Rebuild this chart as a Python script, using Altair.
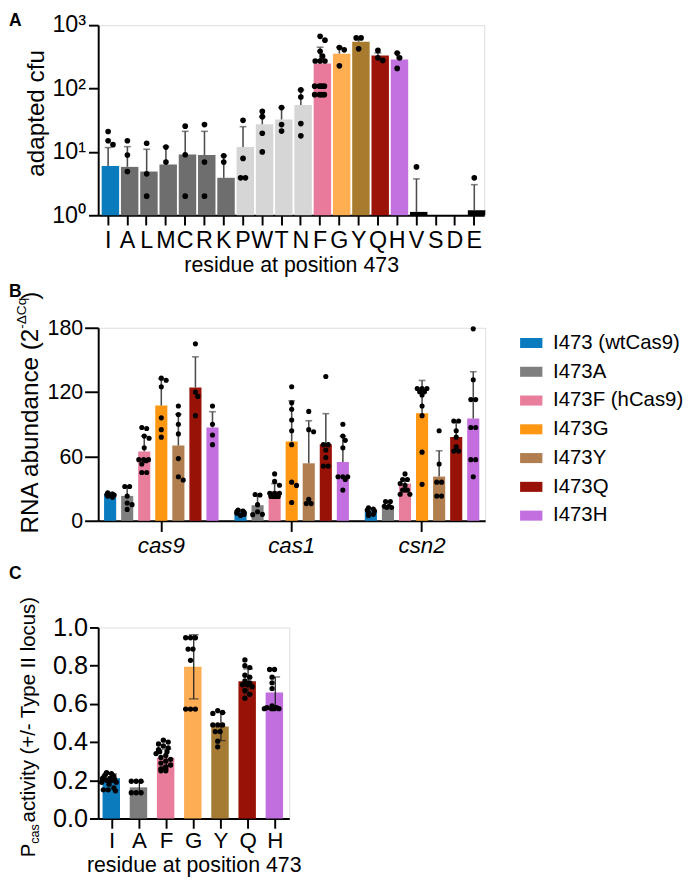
import altair as alt
import pandas as pd
import math

FONT = "Liberation Sans"

# ---------------- Panel A data ----------------
a_res = ["I", "A", "L", "M", "C", "R", "K", "P", "W", "T", "N", "F", "G", "Y", "Q", "H", "V", "S", "D", "E"]
a_mean = [6.0, 5.8, 4.9, 6.3, 9.1, 8.9, 3.9, 11.9, 27.3, 32.5, 55, 248, 355, 547, 331, 288, 1.13, None, None, 1.2]
a_upper = [11.7, 12.1, 11.0, 12.1, 21.1, 21.1, 8.7, 25, 36, 50, 95, 449, 449, 630, 365, 363, 3.75, None, None, 3.04]
a_points = [
    [21, 15, 13], [15, 8.9, 4.9], [13.7, 4.5, 2.0], [11.9, 6.9], [25.5, 9.0, 2.0], [27, 6.9, 2.0],
    [8.7, 6.9], [31.5, 7.9, 3.9, 3.9], [43.5, 36, 19.7, 10], [50, 27, 21.3], [95, 73.5, 28, 17.9],
    [667, 580, 386, 324, 272, 272, 272, 109, 109, 109, 109, 80, 80, 80, 80],
    [444, 408, 228], [630, 630, 423], [400, 305, 278], [363, 305, 208], [5.8], [], [], [3.9],
]
a_colors = ["#0a7bbd"] + ["#6e6e6e"] * 6 + ["#d6d6d6"] * 4 + ["#e97a9b", "#ffae52", "#a97b2f", "#9c1409", "#c271e0"] + ["#000000"] * 4
a_ticks = [1, 10, 100, 1000]
a_title_y = "adapted cfu"
a_title_x = "residue at position 473"

# ---------------- Panel B data ----------------
b_genes = ["cas9", "cas1", "csn2"]
b_vars = ["I473 (wtCas9)", "I473A", "I473F (hCas9)", "I473G", "I473Y", "I473Q", "I473H"]
b_colors = ["#0b7bbf", "#7f7f7f", "#e97d9c", "#ff9712", "#b07e4f", "#991208", "#c36fe0"]
b_mean = {
    "cas9": [25, 23.2, 64.7, 107.4, 70.1, 124.3, 87],
    "cas1": [8.5, 14.5, 27.7, 74, 53.6, 71.3, 54.8],
    "csn2": [9.7, 13.5, 34.7, 100.2, 41.2, 78.2, 95.4],
}
b_upper = {
    "cas9": [26.5, 32.2, 78.9, 132.4, 99.3, 152.9, 101.7],
    "cas1": [10, 24.1, 34.6, 111.9, 93.3, 99.9, 78.9],
    "csn2": [11.5, 18, 39.2, 130.9, 65.3, 91.8, 139],
}
b_points = {
    "cas9": [
        [26, 25, 24.5, 24, 23.5, 23, 22],
        [32, 32, 23, 16.6, 15, 10.6],
        [87, 86, 79, 77, 68, 57, 57, 56, 57, 53, 45, 45],
        [133, 131, 125, 96, 85, 78],
        [107, 99, 90, 81, 58, 41, 38],
        [165, 120, 116, 98],
        [107, 90, 80, 71],
    ],
    "cas1": [
        [10, 9, 8.5, 8, 7, 6, 5],
        [24, 24.5, 15, 8.4, 6, 5.7],
        [43.7, 36.7, 33.1, 25.6, 25.6, 25.6, 22.6, 22.6, 22.6, 22.6],
        [125, 110, 104, 94, 84, 71, 36, 33, 17],
        [102, 85, 83, 20, 16, 16],
        [134.5, 71, 71, 66, 59, 51, 51],
        [90, 79, 75, 68, 41, 41, 41, 38.5, 28.6],
    ],
    "csn2": [
        [12, 11, 10, 9, 8, 6, 5],
        [18, 18, 13.5, 13.5, 12.4, 12.4],
        [43.7, 38.5, 38.5, 34.7, 33, 28.6, 28.6, 28.6, 24.7, 24.7],
        [123.4, 123.4, 123.4, 120.4, 120.4, 117.3, 107, 98, 64, 34],
        [84, 53, 36, 36, 23, 23],
        [93, 93, 84, 78, 69, 65, 65],
        [179, 131.5, 113, 113, 87, 87, 57, 57, 41],
    ],
}
b_ticks = [0, 60, 120, 180]
b_title_main = "RNA abundance (2"
b_title_sup = "-ΔCq"
b_title_end = ")"

# ---------------- Panel C data ----------------
c_res = ["I", "A", "F", "G", "Y", "Q", "H"]
c_mean = [0.211, 0.163, 0.318, 0.794, 0.481, 0.718, 0.659]
c_sd = [0.022, 0.03, 0.045, 0.168, 0.073, 0.065, 0.082]
c_points = [
    [0.24, 0.235, 0.23, 0.225, 0.22, 0.22, 0.21, 0.21, 0.205, 0.2, 0.2, 0.19, 0.19, 0.18, 0.16, 0.15, 0.15, 0.145],
    [0.195, 0.195, 0.195, 0.135, 0.135, 0.135],
    [0.41, 0.40, 0.39, 0.38, 0.37, 0.36, 0.35, 0.35, 0.34, 0.33, 0.32, 0.31, 0.30, 0.29, 0.28, 0.27, 0.26, 0.26, 0.25, 0.25],
    [0.946, 0.946, 0.946, 0.887, 0.887, 0.828, 0.573, 0.573, 0.573],
    [0.565, 0.55, 0.555, 0.49, 0.49, 0.49, 0.455, 0.455, 0.405, 0.375],
    [0.83, 0.80, 0.79, 0.75, 0.74, 0.72, 0.71, 0.70, 0.70, 0.69, 0.67, 0.65, 0.63],
    [0.78, 0.78, 0.74, 0.71, 0.68, 0.58, 0.575, 0.575, 0.575, 0.575, 0.58, 0.59],
]
c_colors = ["#0b7bbd", "#7c7c7c", "#e87c9a", "#fdae55", "#a57a32", "#991208", "#c16fdf"]
c_ticks = [0.0, 0.2, 0.4, 0.6, 0.8, 1.0]
c_title_p = "P"
c_title_sub = "cas"
c_title_rest = " activity (+/- Type II locus)"
c_title_x = "residue at position 473"

letters = ["A", "B", "C"]

# ---------------- layout sizes ----------------
WA, HA = 398, 196
WB, HB = 399, 199
WC, HC = 197, 197


def swarm(pix, half_width, d=5.0, step=2.5):
    """Horizontal spread of points (pixels) so that dots do not pile up."""
    order = sorted(range(len(pix)), key=lambda i: pix[i])
    placed = []
    offs = [0.0] * len(pix)
    cands = [0.0]
    k = 1
    while k * step <= half_width:
        cands += [k * step, -k * step]
        k += 1
    for i in order:
        best, best_d = 0.0, -1
        for c in cands:
            md = min([math.hypot(c - px, pix[i] - py) for px, py in placed] or [99])
            if md >= d:
                best = c
                break
            if md > best_d:
                best, best_d = c, md
        placed.append((best, pix[i]))
        offs[i] = best
    rows = []
    for i in order:
        if rows and abs(pix[i] - pix[rows[-1][0]]) <= 1.5:
            rows[-1].append(i)
        else:
            rows.append([i])
    for r in rows:
        if len(r) > 1:
            m = sum(offs[i] for i in r) / len(r)
            for i in r:
                offs[i] -= m
    return offs


def ax(**kw):
    base = dict(domainColor="black", domainWidth=2, tickColor="black", tickWidth=2,
                labelColor="black", labelFont=FONT, titleFont=FONT, titleColor="black",
                grid=False, titleFontWeight="normal", labelOverlap=False)
    base.update(kw)
    return alt.Axis(**base)


def text_layer(txt, x, y, size, angle=0, align="center", weight="normal", baseline="middle"):
    return alt.Chart(pd.DataFrame({"t": [txt]})).mark_text(
        font=FONT, fontSize=size, angle=angle, align=align, baseline=baseline,
        fontWeight=weight, color="black"
    ).encode(text="t:N", x=alt.value(x), y=alt.value(y))


def offset_q(field, bw):
    # quantitative offset in pixels relative to the band centre
    return alt.XOffset(field, scale=alt.Scale(domain=[-80, 80], range=[bw / 2 - 80, bw / 2 + 80]))


# ================= Panel A =================
a_step = WA / (len(a_res) - 0.33 + 2 * 0.18)
a_bw = a_step * 0.67
a_bar_rows, a_pt_rows = [], []
for i, r in enumerate(a_res):
    if a_mean[i] is not None:
        a_bar_rows.append({"res": r, "mean": a_mean[i], "upper": a_upper[i], "col": a_colors[i]})
    pts = a_points[i]
    pix = [HA * (1 - math.log10(v) / 3) for v in pts]
    offs = swarm(pix, a_bw / 2 - 1)
    for v, o in zip(pts, offs):
        a_pt_rows.append({"res": r, "v": v, "jx": o})
a_bar = pd.DataFrame(a_bar_rows)
a_pt = pd.DataFrame(a_pt_rows)

xA = alt.X("res:N", scale=alt.Scale(domain=a_res, paddingInner=0.33, paddingOuter=0.18),
           axis=ax(title=a_title_x, labelAngle=0, labelFontSize=24, titleFontSize=22,
                   tickSize=10, labelPadding=4, titlePadding=3))
yA = alt.Y("mean:Q", scale=alt.Scale(type="log", domain=[1, 1000]),
           axis=ax(values=a_ticks, tickSize=10, labelFontSize=24, labelPadding=3, title=None,
                   labelExpr="datum.value == 1 ? '10⁰' : datum.value == 10 ? '10¹' : datum.value == 100 ? '10²' : '10³'"))

barsA = alt.Chart(a_bar).mark_bar().encode(x=xA, y=yA, y2=alt.datum(1), color=alt.Color("col:N", scale=None))
errA = alt.Chart(a_bar).mark_rule(color="#4d4d4d", strokeWidth=1.6).encode(x="res:N", y="mean:Q", y2="upper:Q")
capA = alt.Chart(a_bar).mark_tick(color="#4d4d4d", thickness=1.6, size=7, orient="horizontal").encode(x="res:N", y="upper:Q")
ptsA = alt.Chart(a_pt).mark_circle(size=34, color="black", opacity=1).encode(
    x="res:N", xOffset=offset_q("jx:Q", a_bw), y=alt.Y("v:Q"))
panelA = alt.layer(
    barsA, errA, capA, ptsA,
    text_layer(a_title_y, -64, 91, 25, angle=270),
    text_layer(letters[0], -92, -4, 18, align="left", weight="bold"),
).properties(width=WA, height=HA)

# ================= Panel B =================
b_step = WB / (3 - 0.084 + 2 * 0.026)
b_bw = b_step * (1 - 0.084)
b_sub = b_bw / 7
b_bar_rows, b_pt_rows = [], []
for g in b_genes:
    for j, vname in enumerate(b_vars):
        ox = (j - 3) * b_sub
        b_bar_rows.append({"gene": g, "variant": vname, "mean": b_mean[g][j], "upper": b_upper[g][j], "ox": ox})
        pts = b_points[g][j]
        pix = [HB * (1 - v / 180) for v in pts]
        offs = swarm(pix, b_sub * 0.71 / 2 - 0.5)
        for v, o in zip(pts, offs):
            b_pt_rows.append({"gene": g, "variant": vname, "v": v, "ox": ox + o})
b_bar = pd.DataFrame(b_bar_rows)
b_pt = pd.DataFrame(b_pt_rows)
b_leg = pd.DataFrame({"variant": b_vars})

xB = alt.X("gene:N", scale=alt.Scale(domain=b_genes, paddingInner=0.084, paddingOuter=0.026),
           axis=ax(title=None, labelAngle=0, labelFontSize=23, labelFontStyle="italic",
                   tickSize=11, labelPadding=4))
yB = alt.Y("mean:Q", scale=alt.Scale(domain=[0, 180]),
           axis=ax(values=b_ticks, tickSize=14, labelFontSize=22, labelPadding=2, title=None))
colB = alt.Color("variant:N", scale=alt.Scale(domain=b_vars, range=b_colors), legend=None)

barsB = alt.Chart(b_bar).mark_bar().encode(
    x=xB,
    xOffset=alt.XOffset("variant:N", scale=alt.Scale(domain=b_vars, paddingInner=0.29, paddingOuter=0.145)),
    y=yB, color=colB,
)
errB = alt.Chart(b_bar).mark_rule(color="#4d4d4d", strokeWidth=1.6).encode(
    x="gene:N", xOffset=offset_q("ox:Q", b_bw), y="mean:Q", y2="upper:Q")
capB = alt.Chart(b_bar).mark_tick(color="#4d4d4d", thickness=1.6, size=7, orient="horizontal").encode(
    x="gene:N", xOffset=offset_q("ox:Q", b_bw), y="upper:Q")
ptsB = alt.Chart(b_pt).mark_circle(size=28, color="black", opacity=1).encode(
    x="gene:N", xOffset=offset_q("ox:Q", b_bw), y="v:Q")
dataB = alt.layer(barsB, errB, capB, ptsB).resolve_scale(xOffset="independent")

legY = alt.Y("variant:N", scale=alt.Scale(type="point", domain=b_vars, range=[15.7, 193.7], padding=0), axis=None)
legSw = alt.Chart(b_leg).mark_point(shape="M-1,-0.45H1V0.45H-1Z", size=529, filled=True, opacity=1, strokeWidth=0).encode(
    x=alt.value(446.5), y=legY, color=colB)
legTx = alt.Chart(b_leg).mark_text(font=FONT, fontSize=21, align="left", baseline="middle", color="black").encode(
    x=alt.value(469), y=legY, text="variant:N")

panelB = alt.layer(
    dataB, legSw, legTx,
    text_layer(b_title_main, -70, 1, 25, angle=270, align="right"),
    text_layer(b_title_sup, -78, 1, 14, angle=270, align="left"),
    text_layer(b_title_end, -70, -29, 25, angle=270, align="left"),
    text_layer(letters[1], -92, -37, 18, align="left", weight="bold"),
).resolve_scale(y="independent").properties(width=WB, height=HB)

# ================= Panel C =================
c_step = WC / (7 - 0.29 + 2 * 0.16)
c_bw = c_step * 0.71
c_bar_rows, c_pt_rows = [], []
for i, r in enumerate(c_res):
    c_bar_rows.append({"res": r, "mean": c_mean[i], "lo": c_mean[i] - c_sd[i], "hi": c_mean[i] + c_sd[i], "col": c_colors[i]})
    pts = c_points[i]
    pix = [HC * (1 - v) for v in pts]
    offs = swarm(pix, c_bw / 2 - 1)
    for v, o in zip(pts, offs):
        c_pt_rows.append({"res": r, "v": v, "jx": o})
c_bar = pd.DataFrame(c_bar_rows)
c_pt = pd.DataFrame(c_pt_rows)

axC = ax(values=c_ticks, labelExpr="format(datum.value, '.1f')", tickSize=9, labelFontSize=26,
         labelPadding=2, title=None)
scC = alt.Scale(domain=[0, 1])
xC = alt.X("res:N", scale=alt.Scale(domain=c_res, paddingInner=0.29, paddingOuter=0.16),
           axis=ax(title=c_title_x, labelAngle=0, labelFontSize=23, titleFontSize=22,
                   tickSize=10, labelPadding=2, titlePadding=3))
barsC = alt.Chart(c_bar).mark_bar().encode(x=xC, y=alt.Y("mean:Q", scale=scC, axis=axC), color=alt.Color("col:N", scale=None))
errC = alt.Chart(c_bar).mark_rule(color="#222222", strokeWidth=1.3).encode(
    x="res:N", y=alt.Y("lo:Q", scale=scC, axis=axC), y2="hi:Q")
capC1 = alt.Chart(c_bar).mark_tick(color="#222222", thickness=1.3, size=10, orient="horizontal").encode(
    x="res:N", y=alt.Y("hi:Q", scale=scC, axis=axC))
capC2 = alt.Chart(c_bar).mark_tick(color="#222222", thickness=1.3, size=10, orient="horizontal").encode(
    x="res:N", y=alt.Y("lo:Q", scale=scC, axis=axC))
ptsC = alt.Chart(c_pt).mark_circle(size=30, color="black", opacity=1).encode(
    x="res:N", xOffset=offset_q("jx:Q", c_bw), y=alt.Y("v:Q", scale=scC, axis=axC))
panelC = alt.layer(
    barsC, errC, capC1, capC2, ptsC,
    text_layer(c_title_p, -71, 237, 21, angle=270, align="left"),
    text_layer(c_title_sub, -65, 223, 13, angle=270, align="left"),
    text_layer(c_title_rest, -71, 201, 21, angle=270, align="left"),
    text_layer(letters[2], -92, -55, 18, align="left", weight="bold"),
).properties(width=WC, height=HC)

chart = alt.vconcat(panelA, panelB, panelC, spacing=6).configure_view(stroke=None).configure(
    font=FONT
).configure_axis(labelOverlap=False).properties(
    padding={"left": 0, "top": -10, "right": 0, "bottom": 0}
)

chart.save("out.html", embed_options={"renderer": "svg", "actions": False})
